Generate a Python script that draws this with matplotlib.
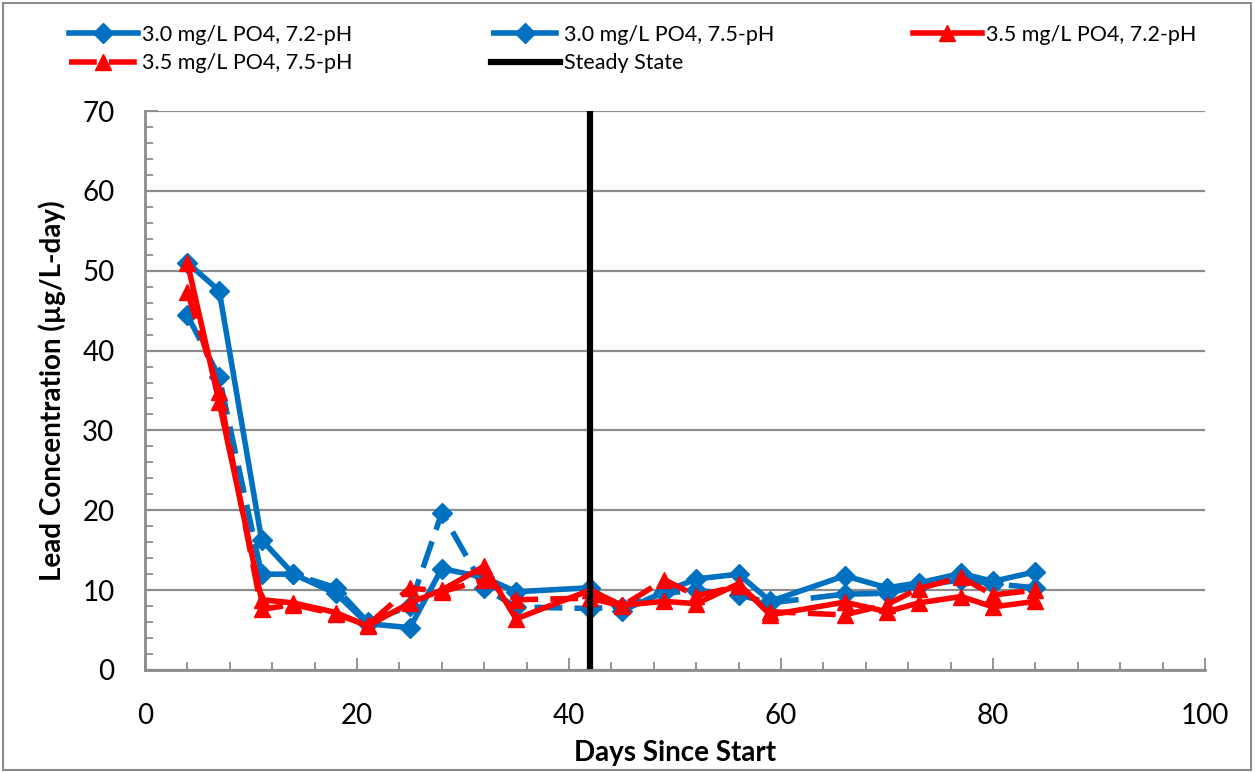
import matplotlib
matplotlib.use("Agg")
import matplotlib.pyplot as plt
from matplotlib.patches import Rectangle
from matplotlib.ticker import MultipleLocator

plt.rcParams['font.family'] = ['Lato', 'DejaVu Sans']

# sampling days and lead concentrations (ug/L-day)
days = [4, 7, 11, 14, 18, 21, 25, 28, 32, 35, 42, 45, 49, 52, 56, 59, 66, 70, 73, 77, 80, 84]

po4_30_ph72 = [51.0, 47.5, 16.3, 12.0, 9.6, 5.8, 5.3, 12.7, 11.6, 9.8, 10.3, 7.4,
               9.8, 11.4, 12.0, 8.6, 11.8, 10.3, 10.9, 12.1, 11.1, 12.3]
po4_30_ph75 = [44.4, 36.7, 12.0, 12.0, 10.3, 6.0, 8.0, 19.7, 10.3, 7.9, 7.7, 7.9,
               9.6, 10.0, 9.4, 8.4, 9.5, 9.6, 10.5, 11.3, 10.8, 10.3]
po4_35_ph72 = [51.0, 33.5, 8.8, 8.4, 7.2, 5.5, 8.4, 10.0, 13.0, 6.4, 10.0, 8.1,
               8.6, 8.3, 10.8, 6.9, 8.5, 7.3, 8.4, 9.2, 7.9, 8.6]
po4_35_ph75 = [47.3, 34.8, 7.6, 8.2, 7.0, 5.6, 10.3, 9.8, 11.3, 8.8, 9.0, 8.0,
               11.3, 9.3, 10.5, 7.3, 6.9, 8.2, 10.2, 11.6, 9.4, 10.0]

steady_day = 42

labels = ["3.0 mg/L PO4, 7.2-pH", "3.0 mg/L PO4, 7.5-pH",
          "3.5 mg/L PO4, 7.2-pH", "3.5 mg/L PO4, 7.5-pH", "Steady State"]

blue = "#0070C0"
red = "#FF0000"
grey = "#8C8C8C"
dash = (5, 2.2)
lw = 4.0

fig = plt.figure(figsize=(12.55, 7.72), dpi=100)
ax = fig.add_axes([145 / 1255, 1 - 670 / 772, 1060 / 1255, 559 / 772])

h1, = ax.plot(days, po4_30_ph72, color=blue, lw=lw, marker="D", ms=10,
              label=labels[0])
h2, = ax.plot(days, po4_30_ph75, color=blue, lw=lw, marker="D", ms=10,
              dashes=dash, label=labels[1])
h3, = ax.plot(days, po4_35_ph72, color=red, lw=lw, marker="^", ms=12,
              label=labels[2])
h4, = ax.plot(days, po4_35_ph75, color=red, lw=lw, marker="^", ms=12,
              dashes=dash, label=labels[3])
h5 = ax.axvline(steady_day, color="black", lw=4.5, label=labels[4])

ax.set_xlim(0, 100)
ax.set_ylim(0, 70)
ax.xaxis.set_major_locator(MultipleLocator(20))
ax.xaxis.set_minor_locator(MultipleLocator(4))
ax.yaxis.set_major_locator(MultipleLocator(10))
ax.yaxis.set_minor_locator(MultipleLocator(2))
ax.grid(axis="y", which="major", color=grey, lw=1.6)
ax.set_axisbelow(True)

for side in ("top", "right"):
    ax.spines[side].set_visible(False)
for side in ("left", "bottom"):
    ax.spines[side].set_color(grey)
    ax.spines[side].set_linewidth(2)

ax.tick_params(axis="both", which="both", direction="in", color=grey,
               labelsize=20, width=1.3)
ax.tick_params(axis="both", which="major", length=9)
ax.tick_params(axis="both", which="minor", length=6)
ax.tick_params(axis="x", which="major", pad=24)
ax.tick_params(axis="y", which="major", pad=22)

ax.set_xlabel("Days Since Start", fontsize=20, fontweight="bold", labelpad=8)
ax.set_ylabel("Lead Concentration (µg/L-day)", fontsize=20,
              fontweight="bold", labelpad=12)

# legend laid out row by row across the top
order = [h1, h4, h2, h5, h3]
fig.legend(order, [h.get_label() for h in order], ncol=3, mode="expand",
           loc="lower left", bbox_to_anchor=(60 / 1255, 1 - 82 / 772, 1145 / 1255, 78 / 772),
           frameon=False, fontsize=15.5, handlelength=3.2, handletextpad=0.2,
           labelspacing=0.4, borderaxespad=0)

fig.patches.append(Rectangle((3 / 1255, 2 / 772), 1248 / 1255, 767 / 772,
                             transform=fig.transFigure, fill=False,
                             edgecolor=grey, lw=1.5))

fig.savefig("out.png", dpi=100)
